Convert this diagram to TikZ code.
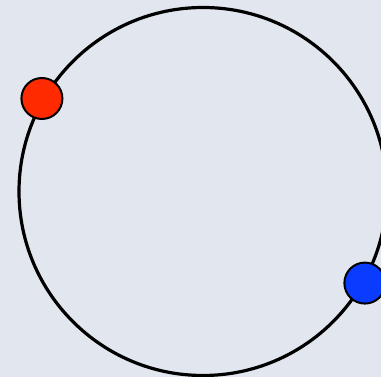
\documentclass[tikz,border=0pt]{standalone}
\usepackage{tikz}
\usetikzlibrary{positioning,calc}

\definecolor{bgpaper}{RGB}{226,230,238}
\definecolor{dotred}{RGB}{255,42,0}
\definecolor{dotblue}{RGB}{10,60,255}

\tikzset{
    ring/.style={line width=3.2pt, draw=black},
    dot/.style={circle, draw=black, line width=2pt, minimum size=41pt, inner sep=0pt}
}

\begin{document}
\begin{tikzpicture}[x=1pt, y=1pt]
    % Background
    \fill[bgpaper] (0, 0) rectangle (381, 377);
    \useasboundingbox (0, 0) rectangle (381, 377);
    \clip (0, 0) rectangle (381, 377);

    % Circle
    \coordinate (centre) at (203, 185.5);
    \draw[ring] (centre) circle (184);

    % Two points on it
    \node[dot, fill=dotred] (red) at ($(centre) + (150:186)$) {};
    \node[dot, fill=dotblue] (blue) at ($(centre) + (-29.5:186)$) {};
\end{tikzpicture}
\end{document}
